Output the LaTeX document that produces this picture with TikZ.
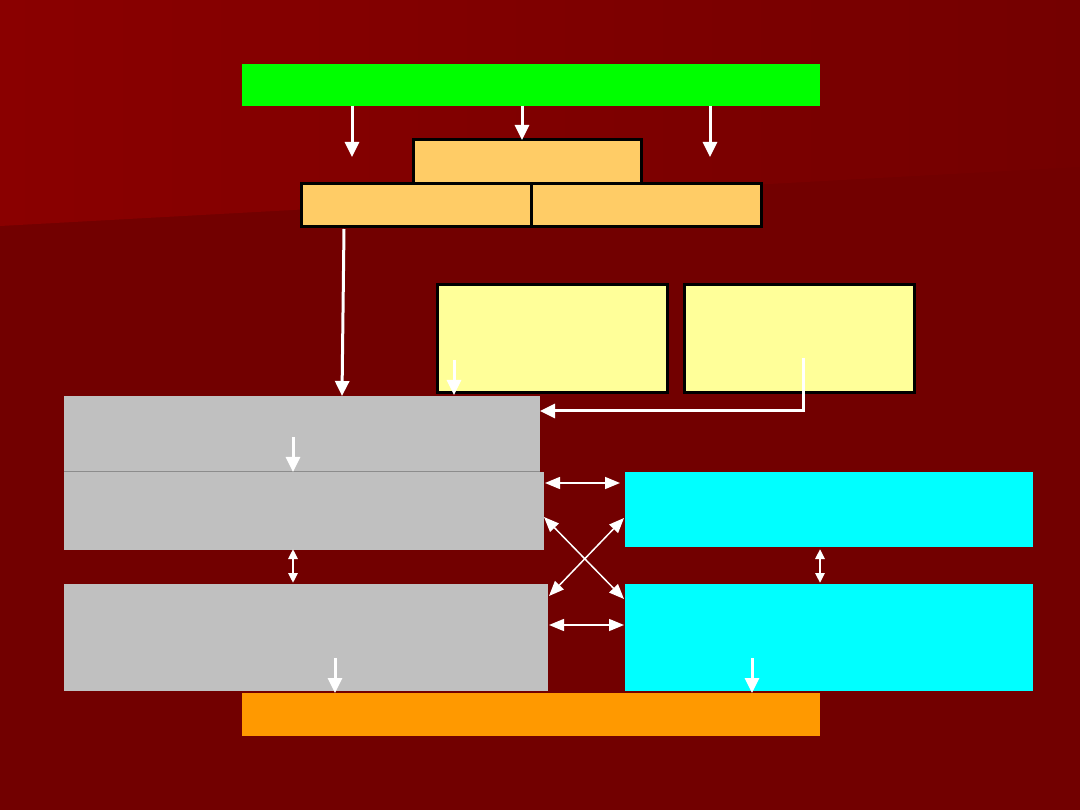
\documentclass[tikz,border=0pt]{standalone}
\usetikzlibrary{arrows.meta}
\definecolor{bgdark}{HTML}{720000}
\definecolor{bgleft}{HTML}{8A0000}
\definecolor{bgright}{HTML}{740000}
\definecolor{greenbar}{HTML}{00FF00}
\definecolor{peach}{HTML}{FFCC66}
\definecolor{paleyellow}{HTML}{FFFF99}
\definecolor{greybox}{HTML}{C0C0C0}
\definecolor{greyedge}{HTML}{8C8C8C}
\definecolor{cyanbox}{HTML}{00FFFF}
\definecolor{orangebar}{HTML}{FF9900}
\tikzset{
  box/.style={rectangle, inner sep=0pt, outer sep=0pt},
  blackbox/.style={box, draw=black, line width=3pt},
  greyfill/.style={box, fill=greybox},
  mainarrow/.style={draw=white, line width=3pt, -{Triangle[width=14pt,length=15pt]}},
  thinarrow/.style={draw=white, line width=1.5pt, {Triangle[width=12pt,length=15pt]}-{Triangle[width=12pt,length=15pt]}},
  smallarrow/.style={draw=white, line width=2.5pt, {Triangle[width=9pt,length=10pt]}-{Triangle[width=9pt,length=10pt]}}
}
\begin{document}
\begin{tikzpicture}[x=1pt,y=-1pt]
\useasboundingbox (0,0) rectangle (1080,810);
\fill[bgdark] (0,0) rectangle (1080,810);
\shade[left color=bgleft, right color=bgright] (0,0) -- (1080,0) -- (1080,167) -- (0,226) -- cycle;

% boxes
\node[box, fill=greenbar, minimum width=578pt, minimum height=42pt] (green) at (531,85) {};
\node[blackbox, fill=peach, minimum width=228pt, minimum height=44pt] (ptop) at (527,162) {};
\node[blackbox, fill=peach, minimum width=230pt, minimum height=43pt] (pleft) at (416,205.5) {};
\node[blackbox, fill=peach, minimum width=230pt, minimum height=43pt] (pright) at (646,205.5) {};
\node[blackbox, fill=paleyellow, minimum width=230pt, minimum height=108pt] (y1) at (552,339) {};
\node[blackbox, fill=paleyellow, minimum width=230pt, minimum height=108pt] (y2) at (799,339) {};
\node[greyfill, minimum width=476pt, minimum height=75pt] (g1) at (302,433.5) {};
\node[greyfill, minimum width=480pt, minimum height=78pt] (g2) at (304,511) {};
\node[greyfill, minimum width=484pt, minimum height=107pt] (g3) at (306,637.5) {};
\draw[greyedge, line width=0.8pt] (g1.south west) -- (g1.south east);
\node[box, fill=cyanbox, minimum width=408pt, minimum height=75pt] (c1) at (829,509.5) {};
\node[box, fill=cyanbox, minimum width=408pt, minimum height=107pt] (c2) at (829,637.5) {};
\node[box, fill=orangebar, minimum width=578pt, minimum height=43pt] (orange) at (531,714.5) {};

% coordinates
\coordinate (a1s) at (352,106); \coordinate (a1e) at (352,157);
\coordinate (a3s) at (710,106); \coordinate (a3e) at (710,157);
\coordinate (a2s) at (522,106); \coordinate (a2e) at (522,140);
\coordinate (lks) at (344,229); \coordinate (lke) at (342,396);
\coordinate (y1s) at (454,360); \coordinate (y1e) at (454,395);
\coordinate (y2s) at (803,358); \coordinate (y2c) at (803,411); \coordinate (y2e) at (540,411);
\coordinate (g1s) at (293,437); \coordinate (g1e) at (293,472);
\coordinate (d1s) at (335,658); \coordinate (d1e) at (335,693);
\coordinate (d2s) at (752,658); \coordinate (d2e) at (752,693);
\coordinate (h1a) at (545,483); \coordinate (h1b) at (620,483);
\coordinate (h2a) at (549,625); \coordinate (h2b) at (624,625);
\coordinate (x1a) at (544,517); \coordinate (x1b) at (624,599);
\coordinate (x2a) at (549,596); \coordinate (x2b) at (624,518);
\coordinate (v1a) at (293,549); \coordinate (v1b) at (293,583);
\coordinate (v2a) at (820,549); \coordinate (v2b) at (820,583);

% connectors
\draw[mainarrow] (a1s) -- (a1e);
\draw[mainarrow] (a2s) -- (a2e);
\draw[mainarrow] (a3s) -- (a3e);
\draw[mainarrow] (lks) -- (lke);
\draw[mainarrow] (y1s) -- (y1e);
\draw[mainarrow] (y2s) -- (y2c) -- (y2e);
\draw[mainarrow] (g1s) -- (g1e);
\draw[mainarrow] (d1s) -- (d1e);
\draw[mainarrow] (d2s) -- (d2e);
\draw[thinarrow] (h1a) -- (h1b);
\draw[thinarrow] (h2a) -- (h2b);
\draw[thinarrow] (x1a) -- (x1b);
\draw[thinarrow] (x2a) -- (x2b);
\draw[smallarrow] (v1a) -- (v1b);
\draw[smallarrow] (v2a) -- (v2b);
\end{tikzpicture}
\end{document}
